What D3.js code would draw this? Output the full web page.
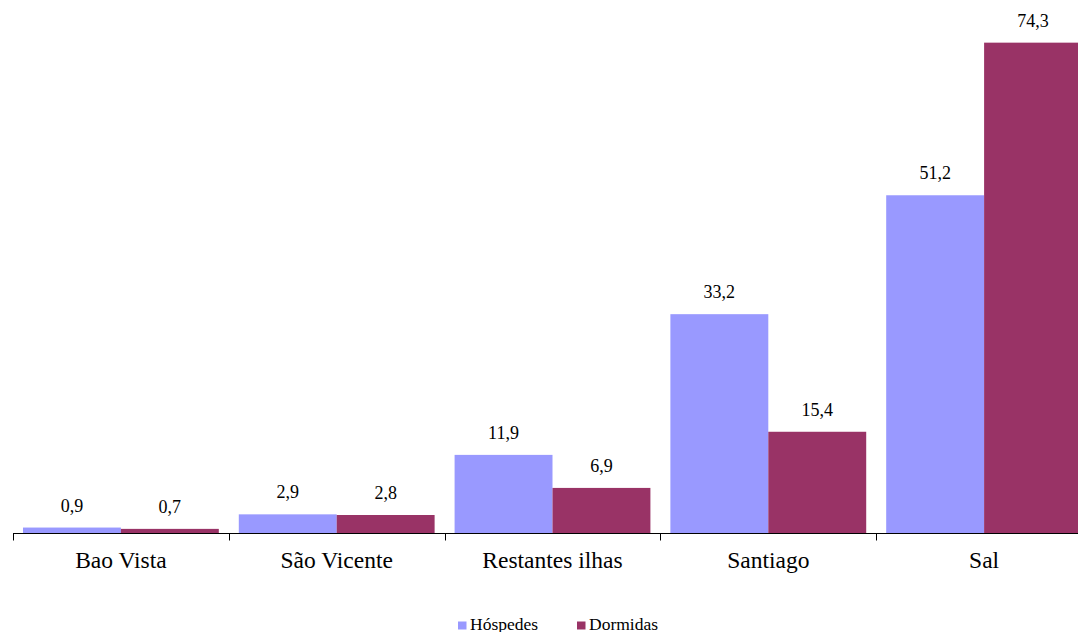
<!DOCTYPE html>
<html>
<head>
<meta charset="utf-8">
<script src="https://cdn.jsdelivr.net/npm/d3@7"></script>
<style>
  html, body { margin: 0; padding: 0; background: #fff; }
  svg { display: block; }
</style>
</head>
<body>
<svg id="chart" width="1078" height="632"></svg>
<script>
// Islands and their shares for guests (Hóspedes) and nights (Dormidas)
const categories = ["Bao Vista", "São Vicente", "Restantes ilhas", "Santiago", "Sal"];
const seriesNames = ["Hóspedes", "Dormidas"];
const hospedes = [0.9, 2.9, 11.9, 33.2, 51.2];
const dormidas = [0.7, 2.8, 6.9, 15.4, 74.3];
const colors = ["#9999FF", "#993366"];

const FONT = "'Liberation Serif', 'Times New Roman', Times, serif";

const svg = d3.select("#chart");
const baseY = 533.5;

const x0 = d3.scaleBand()
  .domain(categories)
  .range([13, 13 + 5 * 215.8])
  .paddingInner(0.0926)
  .paddingOuter(0.0463);

const x1 = d3.scaleBand()
  .domain(seriesNames)
  .range([0, x0.bandwidth()]);

const y = d3.scaleLinear().domain([0, 80]).range([baseY, 5]);

const color = d3.scaleOrdinal().domain(seriesNames).range(colors);

const rows = categories.map((c, i) => ({
  cat: c,
  vals: [
    { name: seriesNames[0], v: hospedes[i] },
    { name: seriesNames[1], v: dormidas[i] }
  ]
}));

const fmt = v => d3.format(".1f")(v).replace(".", ",");

const groups = svg.append("g").selectAll("g")
  .data(rows).join("g")
  .attr("transform", d => `translate(${x0(d.cat)},0)`);

groups.selectAll("rect")
  .data(d => d.vals).join("rect")
  .attr("x", d => x1(d.name))
  .attr("y", d => y(d.v))
  .attr("width", x1.bandwidth())
  .attr("height", d => baseY - y(d.v))
  .attr("fill", d => color(d.name));

groups.selectAll("text")
  .data(d => d.vals).join("text")
  .attr("x", d => x1(d.name) + x1.bandwidth() / 2)
  .attr("y", d => y(d.v) - 16)
  .attr("text-anchor", "middle")
  .attr("font-family", FONT)
  .attr("font-size", 18)
  .attr("fill", "#000")
  .text(d => fmt(d.v));

// Category axis: line across the bottom with ticks between groups
const axis = svg.append("g");
axis.append("line")
  .attr("x1", 13).attr("x2", 1078)
  .attr("y1", baseY).attr("y2", baseY)
  .attr("stroke", "#000").attr("stroke-width", 1);

const tickXs = categories.map(c => x0(c) - x0.step() * x0.paddingOuter());
axis.selectAll("line.tick")
  .data(tickXs).join("line")
  .attr("class", "tick")
  .attr("x1", d => Math.round(d) + 0.5).attr("x2", d => Math.round(d) + 0.5)
  .attr("y1", baseY).attr("y2", baseY + 7)
  .attr("stroke", "#000").attr("stroke-width", 1);

axis.selectAll("text")
  .data(categories).join("text")
  .attr("x", d => x0(d) + x0.bandwidth() / 2)
  .attr("y", 567.5)
  .attr("text-anchor", "middle")
  .attr("font-family", FONT)
  .attr("font-size", 23.5)
  .attr("fill", "#000")
  .text(d => d);

// Legend
const legendItems = [
  { name: seriesNames[0], x: 458 },
  { name: seriesNames[1], x: 577 }
];
const legend = svg.append("g").selectAll("g")
  .data(legendItems).join("g")
  .attr("transform", d => `translate(${d.x},0)`);
legend.append("rect")
  .attr("x", 0).attr("y", 621.5)
  .attr("width", 8.5).attr("height", 8)
  .attr("fill", d => color(d.name));
legend.append("text")
  .attr("x", 12).attr("y", 629.5)
  .attr("font-family", FONT)
  .attr("font-size", 17.5)
  .attr("fill", "#000")
  .text(d => d.name);
</script>
</body>
</html>
